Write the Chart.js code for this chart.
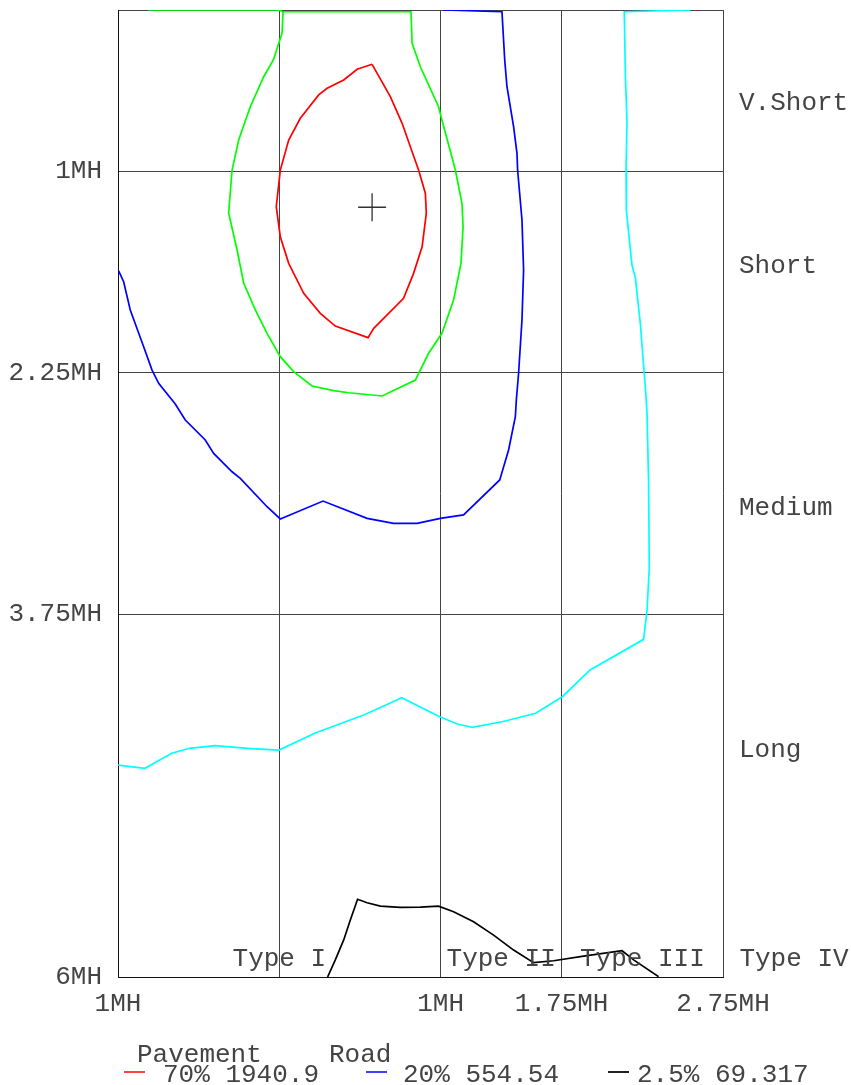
<!DOCTYPE html>
<html>
<head>
    <meta charset="utf-8">
    <title>Isolux Chart</title>
    <script src="https://cdn.jsdelivr.net/npm/chart.js@4.4.0/dist/chart.umd.min.js"></script>
    <style>
        body { margin: 0; background: #fff; }
        #chart-wrapper { position: relative; width: 851px; height: 1085px; }
    </style>
</head>
<body>
<div id="chart-wrapper">
    <canvas id="myChart"></canvas>
</div>
<script>

// axis ticks (in mounting heights)
var xTickVals = [-1, 0, 1, 1.75, 2.75];
var xTickLabels = ['1MH', '', '1MH', '1.75MH', '2.75MH'];
var yTickVals = [0, 1, 2.25, 3.75, 6];
var yTickLabels = ['', '1MH', '2.25MH', '3.75MH', '6MH'];

// zone / type labels
var zoneLabels = ['V.Short', 'Short', 'Medium', 'Long'];
var zoneY = [0.58, 1.59, 3.09, 4.59];
var typeLabels = ['Type I', 'Type II', 'Type III', 'Type IV'];
var typeX = [0, 1.375, 2.25, 3.19];
var typeY = 5.89;

// legend
var legendPct = ['70%', '20%', '2.5%'];
var legendVal = ['1940.9', '554.54', '69.317'];

// max candela point
var maxPoint = [[0.575, 1.224]];

// contours [x, y]
var contour70 = [[0.575,0.337],[0.482,0.368],[0.399,0.434],[0.296,0.486],[0.244,0.527],[0.130,0.672],[0.058,0.807],
    [0.006,0.993],[-0.019,1.220],[0.006,1.407],[0.058,1.572],[0.151,1.758],[0.254,1.882],[0.347,1.961],[0.550,2.033],
    [0.585,1.975],[0.668,1.892],[0.770,1.789],[0.832,1.634],[0.885,1.469],[0.911,1.261],[0.905,1.137],[0.863,0.993],
    [0.823,0.879],[0.761,0.703],[0.688,0.538],[0.575,0.337]];

var contour50 = [[-0.812,0],[-0.006,0],[0.023,0.011],[0.816,0.011],[0.823,0.207],[0.874,0.352],[0.987,0.600],
    [1.008,0.683],[1.091,0.993],[1.132,1.199],[1.139,1.345],[1.126,1.572],[1.080,1.799],[1.008,2.006],[0.925,2.130],
    [0.843,2.296],[0.637,2.395],[0.430,2.375],[0.337,2.362],[0.203,2.333],[0.089,2.244],[0.006,2.151],[-0.076,2.006],
    [-0.149,1.861],[-0.221,1.694],[-0.262,1.489],[-0.314,1.261],[-0.293,0.993],[-0.252,0.807],[-0.180,0.600],
    [-0.097,0.414],[-0.037,0.310],[0.017,0.143],[0.023,0.011]];

var contour20 = [[1.015,0],[1.380,0.011],[1.397,0.310],[1.411,0.476],[1.452,0.724],[1.473,0.889],[1.477,0.993],
    [1.504,1.303],[1.514,1.613],[1.504,1.923],[1.483,2.254],[1.469,2.420],[1.463,2.523],[1.421,2.730],[1.366,2.916],
    [1.142,3.133],[0.998,3.154],[0.854,3.185],[0.708,3.185],[0.544,3.154],[0.271,3.047],[0.006,3.158],[-0.076,3.082],
    [-0.242,2.906],[-0.293,2.865],[-0.407,2.751],[-0.459,2.668],[-0.583,2.544],[-0.645,2.445],[-0.748,2.316],
    [-0.789,2.234],[-0.841,2.089],[-0.924,1.861],[-0.965,1.686],[-0.996,1.618]];

var contour10 = [[2.548,0],[2.138,0.011],[2.145,0.408],[2.155,0.695],[2.149,0.983],[2.151,1.244],[2.186,1.584],
    [2.207,1.662],[2.238,1.950],[2.254,2.159],[2.269,2.342],[2.279,2.498],[2.289,2.942],[2.293,3.465],[2.279,3.726],
    [2.258,3.905],[1.926,4.095],[1.754,4.261],[1.589,4.364],[1.381,4.416],[1.196,4.451],[1.104,4.430],[0.994,4.385],
    [0.758,4.267],[0.661,4.312],[0.523,4.374],[0.385,4.426],[0.219,4.488],[-0.002,4.592],[-0.196,4.581],
    [-0.399,4.565],[-0.556,4.581],[-0.667,4.612],[-0.833,4.705],[-0.999,4.685]];

var contour2_5 = [[0.299,6.0],[0.347,5.894],[0.399,5.770],[0.440,5.646],[0.485,5.518],[0.544,5.539],[0.626,5.560],
    [0.750,5.568],[0.874,5.566],[0.987,5.560],[1.080,5.595],[1.204,5.657],[1.328,5.740],[1.452,5.833],[1.576,5.911],
    [1.700,5.899],[1.886,5.870],[2.124,5.837],[2.196,5.894],[2.351,5.998]];

const FONT = "'Courier New', FreeMono, 'Nimbus Mono PS', 'Liberation Mono', monospace";
const TEXT_COLOR = '#444';

function toPoints(arr)
{
    return arr.map(p => ({x: p[0], y: p[1]}));
}

function contourSet(arr, color)
{
    return {
        data: toPoints(arr),
        showLine: true,
        borderColor: color,
        borderWidth: 1.7,
        pointRadius: 0,
        tension: 0
    };
}

const labelPlugin = {
    id: 'labels',
    afterDraw(chart) {
        const ctx = chart.ctx;
        const xs = chart.scales.x;
        const ys = chart.scales.y;
        ctx.save();
        ctx.font = '26px ' + FONT;
        ctx.fillStyle = TEXT_COLOR;
        ctx.textBaseline = 'middle';

        // zone names on the right
        ctx.textAlign = 'left';
        for (let i = 0; i < zoneLabels.length; i++) {
            ctx.fillText(zoneLabels[i], chart.chartArea.right + 16, ys.getPixelForValue(zoneY[i]));
        }

        // lateral types along the bottom
        ctx.textAlign = 'center';
        for (let i = 0; i < typeLabels.length; i++) {
            ctx.fillText(typeLabels[i], xs.getPixelForValue(typeX[i]), ys.getPixelForValue(typeY));
        }

        // legend
        ctx.textAlign = 'left';
        ctx.fillText('Pavement', 137, 1055);
        ctx.fillText('Road', 329, 1055);
        const dashX = [124, 366, 608];
        const textX = [163, 403, 637];
        const colors = ['#ff4040', '#4040ff', '#222'];
        for (let i = 0; i < legendPct.length; i++) {
            ctx.strokeStyle = colors[i];
            ctx.lineWidth = 2;
            ctx.beginPath();
            ctx.moveTo(dashX[i], 1072);
            ctx.lineTo(dashX[i] + 21, 1072);
            ctx.stroke();
            ctx.fillText(legendPct[i] + ' ' + legendVal[i], textX[i], 1075);
        }
        ctx.restore();
    }
};

const ctx = document.getElementById('myChart').getContext('2d');

const config = {
    type: 'scatter',
    data: {
        datasets: [
            contourSet(contour70, '#ff0000'),
            contourSet(contour50, '#00ff00'),
            contourSet(contour20, '#0000ff'),
            contourSet(contour10, '#00ffff'),
            contourSet(contour2_5, '#000000'),
            {
                data: toPoints(maxPoint),
                pointStyle: 'cross',
                pointRadius: 14,
                borderColor: '#333',
                borderWidth: 1.3,
                showLine: false
            }
        ]
    },
    options: {
        responsive: true,
        maintainAspectRatio: false,
        animation: false,
        layout: {
            // the big cross marker would otherwise push the plot area in
            autoPadding: false,
            padding: {top: 10, right: 128, left: 0, bottom: 0}
        },
        plugins: {
            legend: {display: false},
            tooltip: {enabled: false}
        },
        scales: {
            x: {
                type: 'linear',
                min: -1,
                max: 2.75,
                afterBuildTicks: function (axis) {
                    axis.ticks = xTickVals.map(v => ({value: v}));
                },
                afterFit: function (axis) {
                    axis.height = 108;
                    axis.paddingLeft = 0;
                    axis.paddingRight = 0;
                },
                ticks: {
                    autoSkip: false,
                    maxRotation: 0,
                    padding: 12,
                    color: TEXT_COLOR,
                    font: {family: FONT, size: 26},
                    callback: function (value) {
                        return xTickLabels[xTickVals.indexOf(value)];
                    }
                },
                grid: {color: '#444', lineWidth: 1, drawTicks: false},
                border: {color: '#111', width: 1}
            },
            y: {
                type: 'linear',
                min: 0,
                max: 6,
                reverse: true,
                afterBuildTicks: function (axis) {
                    axis.ticks = yTickVals.map(v => ({value: v}));
                },
                afterFit: function (axis) {
                    axis.width = 118;
                    axis.paddingTop = 0;
                    axis.paddingBottom = 0;
                },
                ticks: {
                    autoSkip: false,
                    padding: 16,
                    color: TEXT_COLOR,
                    font: {family: FONT, size: 26, lineHeight: 0.5},
                    callback: function (value) {
                        return yTickLabels[yTickVals.indexOf(value)];
                    }
                },
                grid: {color: '#444', lineWidth: 1, drawTicks: false},
                border: {color: '#111', width: 1}
            }
        }
    },
    plugins: [labelPlugin]
};

var myChart = new Chart(ctx, config);

</script>
</body>
</html>
